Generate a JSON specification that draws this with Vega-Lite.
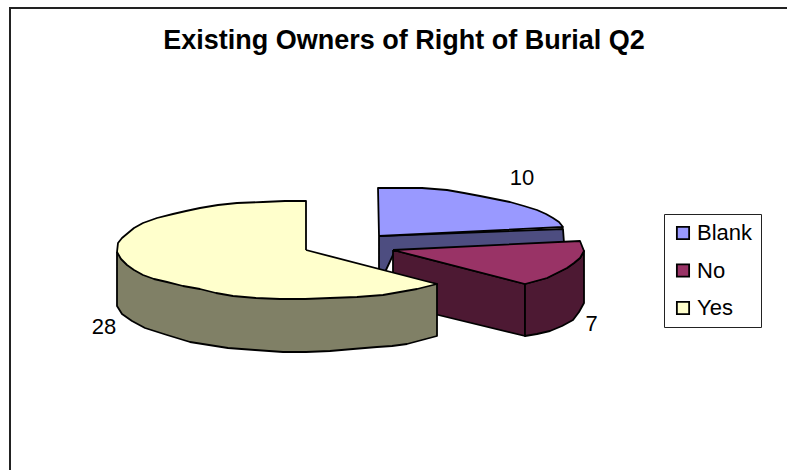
{
"$schema":"https://vega.github.io/schema/vega-lite/v6.json",
"width":787,"height":470,"padding":0,"autosize":{"type":"none"},
"background":"white",
"view":{"stroke":null},
"title":{"text":"Existing Owners of Right of Burial Q2","font":"Liberation Sans","fontSize":27,"fontWeight":"bold","color":"black","anchor":"middle","dx":10.5,"offset":-55},
"config":{"legend":{"symbolType":"square","symbolSize":150,"symbolStrokeColor":"black","symbolStrokeWidth":1.8,"symbolOpacity":1,"labelFont":"Liberation Sans","labelFontSize":22,"labelColor":"black","strokeColor":"#222","fillColor":"white","padding":8,"rowPadding":15.5,"labelOffset":3,"labelLimit":200}},
"datasets":{
"slices":[
{"slice":"Blank","value":10,"x":522,"y":177.5},
{"slice":"No","value":7,"x":591.5,"y":324},
{"slice":"Yes","value":28,"x":104,"y":327}
],
"frame":[{"x":787,"y":8,"s":1},{"x":10,"y":8,"s":2},{"x":10,"y":470,"s":3}],
"outline":[
{"part":"Blank side","s":1,"x":379,"y":236},{"part":"Blank side","s":2,"x":563,"y":229},{"part":"Blank side","s":3,"x":564,"y":243},{"part":"Blank side","s":4,"x":393,"y":255},{"part":"Blank side","s":5,"x":379,"y":285},{"part":"Blank side","s":6,"x":379,"y":236},
{"part":"Blank top","s":1,"x":379,"y":236},{"part":"Blank top","s":2,"x":378,"y":188},{"part":"Blank top","s":3,"x":400,"y":188},{"part":"Blank top","s":4,"x":422,"y":188},{"part":"Blank top","s":5,"x":447,"y":190},{"part":"Blank top","s":6,"x":464,"y":193},{"part":"Blank top","s":7,"x":480,"y":196},{"part":"Blank top","s":8,"x":495,"y":199},{"part":"Blank top","s":9,"x":510,"y":202},{"part":"Blank top","s":10,"x":524,"y":206},{"part":"Blank top","s":11,"x":537,"y":210},{"part":"Blank top","s":12,"x":546,"y":214},{"part":"Blank top","s":13,"x":553,"y":218},{"part":"Blank top","s":14,"x":559,"y":222},{"part":"Blank top","s":15,"x":563,"y":227},{"part":"Blank top","s":16,"x":379,"y":236},
{"part":"No front","s":1,"x":393,"y":250},{"part":"No front","s":2,"x":525,"y":284},{"part":"No front","s":3,"x":525,"y":336},{"part":"No front","s":4,"x":393,"y":304},{"part":"No front","s":5,"x":393,"y":250},
{"part":"No rim","s":1,"x":525,"y":284},{"part":"No rim","s":2,"x":536,"y":281},{"part":"No rim","s":3,"x":547,"y":278},{"part":"No rim","s":4,"x":557,"y":273},{"part":"No rim","s":5,"x":567,"y":268},{"part":"No rim","s":6,"x":574,"y":263},{"part":"No rim","s":7,"x":580,"y":258},{"part":"No rim","s":8,"x":584,"y":251},{"part":"No rim","s":9,"x":584,"y":303},{"part":"No rim","s":10,"x":579,"y":312},{"part":"No rim","s":11,"x":573,"y":320},{"part":"No rim","s":12,"x":562,"y":326},{"part":"No rim","s":13,"x":550,"y":331},{"part":"No rim","s":14,"x":537,"y":334},{"part":"No rim","s":15,"x":525,"y":336},{"part":"No rim","s":16,"x":525,"y":284},
{"part":"No top","s":1,"x":393,"y":250},{"part":"No top","s":2,"x":580,"y":241},{"part":"No top","s":3,"x":584,"y":251},{"part":"No top","s":4,"x":580,"y":258},{"part":"No top","s":5,"x":574,"y":263},{"part":"No top","s":6,"x":567,"y":268},{"part":"No top","s":7,"x":557,"y":273},{"part":"No top","s":8,"x":547,"y":278},{"part":"No top","s":9,"x":536,"y":281},{"part":"No top","s":10,"x":525,"y":284},{"part":"No top","s":11,"x":393,"y":250},
{"part":"Yes side","s":1,"x":117,"y":252},{"part":"Yes side","s":2,"x":437,"y":284},{"part":"Yes side","s":3,"x":437,"y":336},{"part":"Yes side","s":4,"x":422,"y":340},{"part":"Yes side","s":5,"x":407,"y":344},{"part":"Yes side","s":6,"x":392,"y":346},{"part":"Yes side","s":7,"x":377,"y":347},{"part":"Yes side","s":8,"x":353,"y":349},{"part":"Yes side","s":9,"x":330,"y":351},{"part":"Yes side","s":10,"x":306,"y":352},{"part":"Yes side","s":11,"x":283,"y":352},{"part":"Yes side","s":12,"x":255,"y":350},{"part":"Yes side","s":13,"x":228,"y":348},{"part":"Yes side","s":14,"x":209,"y":345},{"part":"Yes side","s":15,"x":190,"y":342},{"part":"Yes side","s":16,"x":167,"y":335},{"part":"Yes side","s":17,"x":145,"y":328},{"part":"Yes side","s":18,"x":132,"y":321},{"part":"Yes side","s":19,"x":122,"y":314},{"part":"Yes side","s":20,"x":117,"y":306},{"part":"Yes side","s":21,"x":117,"y":252},
{"part":"Yes top","s":1,"x":306,"y":250},{"part":"Yes top","s":2,"x":306,"y":201},{"part":"Yes top","s":3,"x":285,"y":201},{"part":"Yes top","s":4,"x":263,"y":202},{"part":"Yes top","s":5,"x":237,"y":203},{"part":"Yes top","s":6,"x":218,"y":205},{"part":"Yes top","s":7,"x":200,"y":208},{"part":"Yes top","s":8,"x":186,"y":211},{"part":"Yes top","s":9,"x":173,"y":214},{"part":"Yes top","s":10,"x":157,"y":218},{"part":"Yes top","s":11,"x":143,"y":223},{"part":"Yes top","s":12,"x":134,"y":228},{"part":"Yes top","s":13,"x":128,"y":233},{"part":"Yes top","s":14,"x":122,"y":238},{"part":"Yes top","s":15,"x":118,"y":243},{"part":"Yes top","s":16,"x":117,"y":252},{"part":"Yes top","s":17,"x":121,"y":259},{"part":"Yes top","s":18,"x":127,"y":265},{"part":"Yes top","s":19,"x":134,"y":270},{"part":"Yes top","s":20,"x":143,"y":275},{"part":"Yes top","s":21,"x":154,"y":279},{"part":"Yes top","s":22,"x":167,"y":282},{"part":"Yes top","s":23,"x":183,"y":286},{"part":"Yes top","s":24,"x":200,"y":289},{"part":"Yes top","s":25,"x":216,"y":293},{"part":"Yes top","s":26,"x":233,"y":296},{"part":"Yes top","s":27,"x":256,"y":298},{"part":"Yes top","s":28,"x":280,"y":299},{"part":"Yes top","s":29,"x":305,"y":299},{"part":"Yes top","s":30,"x":330,"y":298},{"part":"Yes top","s":31,"x":357,"y":297},{"part":"Yes top","s":32,"x":383,"y":295},{"part":"Yes top","s":33,"x":400,"y":292},{"part":"Yes top","s":34,"x":417,"y":289},{"part":"Yes top","s":35,"x":437,"y":284},{"part":"Yes top","s":36,"x":306,"y":250}
]},
"data":{"name":"outline"},
"encoding":{
"x":{"field":"x","type":"quantitative","scale":{"domain":[0,787]},"axis":null},
"y":{"field":"y","type":"quantitative","scale":{"domain":[470,0]},"axis":null}
},
"layer":[
{"data":{"name":"frame"},"mark":{"type":"line","stroke":"#222","strokeWidth":2},"encoding":{"order":{"field":"s","type":"quantitative"}}},
{"mark":{"type":"line","stroke":"black","strokeWidth":1.8,"strokeJoin":"round"},
"encoding":{"order":{"field":"s","type":"quantitative"},
"fill":{"field":"part","type":"nominal","legend":null,"scale":{"domain":["Blank side","Blank top","No front","No rim","No top","Yes side","Yes top"],"range":["#4D4D80","#9999FF","#4D1933","#4D1933","#993366","#808066","#FFFFCC"]}}}},
{"data":{"name":"slices"},"mark":{"type":"text","font":"Liberation Sans","fontSize":22,"color":"black","align":"center","baseline":"middle"},"encoding":{"text":{"field":"value","type":"quantitative"}}},
{"data":{"name":"slices"},"mark":{"type":"point","filled":true,"size":0,"opacity":1},
"encoding":{"color":{"field":"slice","type":"nominal","title":null,"scale":{"domain":["Blank","No","Yes"],"range":["#9999FF","#993366","#FFFFCC"]},"legend":{"orient":"none","legendX":664,"legendY":214}}}}
]
}
